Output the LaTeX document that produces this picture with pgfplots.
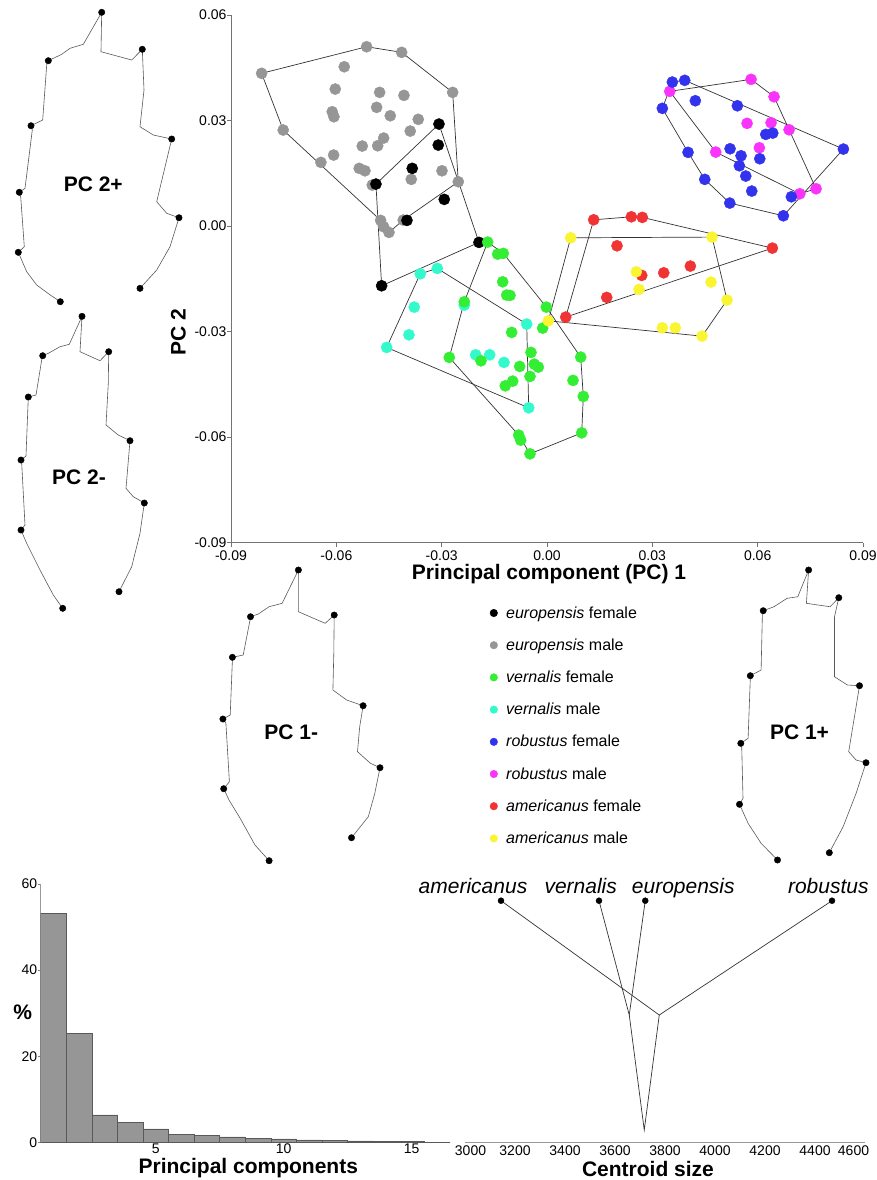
\documentclass[border=0pt]{standalone}
\usepackage{fontspec}
\setmainfont{Liberation Sans}
\usepackage{pgfplots}
\pgfplotsset{compat=1.18}
\newcommand{\ticksize}{\fontsize{14}{16}\selectfont}
\newcommand{\labsize}{\fontsize{21}{24}\selectfont}
\newcommand{\legsize}{\fontsize{16}{18}\selectfont}
\definecolor{cgrey}{RGB}{150,150,150}
\definecolor{cgreen}{RGB}{51,238,51}
\definecolor{ccyan}{RGB}{51,250,204}
\definecolor{cblue}{RGB}{51,51,238}
\definecolor{cmag}{RGB}{250,51,250}
\definecolor{cred}{RGB}{240,51,51}
\definecolor{cyel}{RGB}{250,245,51}
\pgfplotsset{
  hull/.style={draw=black!80, line width=0.7pt, mark=none},
  pts/.style={only marks, mark=*, mark size=5.6pt},
  wing/.style={draw=black!65, line width=0.6pt, mark=none},
  lm/.style={only marks, mark=*, mark size=3.2pt, black},
}
\begin{document}
\begin{tikzpicture}
\path[use as bounding box] (0,0) rectangle (877pt,-1180pt);

%================ main PCA scatter
\begin{axis}[
  at={(231pt,-542.7pt)}, anchor=south west,
  scale only axis, width=632pt, height=527.7pt,
  xmin=-0.09, xmax=0.09, ymin=-0.09, ymax=0.06,
  scaled ticks=false,
  axis x line*=bottom, axis y line*=left,
  axis line style={draw=black!55, line width=0.8pt},
  xtick={-0.09,-0.06,-0.03,0,0.03,0.06,0.09},
  xticklabels={-0.09,-0.06,-0.03,0.00,0.03,0.06,0.09},
  ytick={-0.09,-0.06,-0.03,0,0.03,0.06},
  yticklabels={-0.09,-0.06,-0.03,0.00,0.03,0.06},
  tick align=outside, major tick length=4pt,
  tick style={black!55, line width=0.6pt},
  ticklabel style={font=\ticksize},
  yticklabel style={xshift=3pt},
  clip=false,
]
% hulls
\addplot[hull] coordinates {(-0.08128,0.04342)(-0.05137,0.05098)(-0.04140,0.04939)(-0.02687,0.03801)(-0.02527,0.01260)(-0.04094,0.00171)(-0.04501,-0.00179)(-0.04738,0.00162)(-0.07513,0.02730)(-0.08128,0.04342)};
\addplot[hull] coordinates {(-0.03077,0.02900)(-0.01937,-0.00463)(-0.04710,-0.01697)(-0.04872,0.01194)(-0.03077,0.02900)};
\addplot[hull] coordinates {(-0.01689,-0.00455)(-0.01245,-0.00776)(-0.00020,-0.02303)(0.00960,-0.03725)(0.01034,-0.04842)(0.00989,-0.05877)(-0.00484,-0.06474)(-0.00806,-0.05942)(-0.02783,-0.03733)(-0.02356,-0.02152)(-0.01689,-0.00455)};
\addplot[hull] coordinates {(-0.03610,-0.01356)(-0.03125,-0.01203)(-0.00578,-0.02786)(-0.00521,-0.05166)(-0.04567,-0.03449)(-0.03610,-0.01356)};
\addplot[hull] coordinates {(0.03570,0.04094)(0.03923,0.04143)(0.08442,0.02189)(0.06732,0.00293)(0.05205,0.00654)(0.04493,0.01328)(0.04017,0.02096)(0.03285,0.03347)(0.03570,0.04094)};
\addplot[hull] coordinates {(0.03496,0.03830)(0.05812,0.04171)(0.06467,0.03676)(0.07664,0.01061)(0.07200,0.00918)(0.04806,0.02104)(0.03496,0.03830)};
\addplot[hull] coordinates {(0.01330,0.00179)(0.02402,0.00264)(0.02715,0.00247)(0.06419,-0.00626)(0.00533,-0.02587)(0.01330,0.00179)};
\addplot[hull] coordinates {(0.00675,-0.00333)(0.04701,-0.00313)(0.05128,-0.02104)(0.04416,-0.03128)(0.00037,-0.02693)(0.00675,-0.00333)};
% europensis male
\addplot[pts, cgrey] coordinates {(-0.08128,0.04342)(-0.05137,0.05098)(-0.04140,0.04939)(-0.02687,0.03801)(-0.05775,0.04529)(-0.06031,0.03895)(-0.04766,0.03801)(-0.04074,0.03716)(-0.06117,0.03250)(-0.06068,0.03108)(-0.04852,0.03375)(-0.04464,0.03136)(-0.03667,0.03034)(-0.07513,0.02730)(-0.03895,0.02701)(-0.04652,0.02502)(-0.04823,0.02283)(-0.05262,0.02275)(-0.06077,0.02019)(-0.06439,0.01811)(-0.05348,0.01641)(-0.05185,0.01572)(-0.02991,0.01572)(-0.03866,0.01328)(-0.04977,0.01166)(-0.02527,0.01260)(-0.04738,0.00162)(-0.04652,-0.00020)(-0.04501,-0.00179)(-0.04094,0.00171)};
% europensis female
\addplot[pts, black] coordinates {(-0.03077,0.02900)(-0.03097,0.02303)(-0.03838,0.01641)(-0.04872,0.01194)(-0.02926,0.00759)(-0.03989,0.00162)(-0.01937,-0.00463)(-0.04710,-0.01697)};
% vernalis male
\addplot[pts, ccyan] coordinates {(-0.03610,-0.01356)(-0.03125,-0.01203)(-0.03781,-0.02303)(-0.03932,-0.03091)(-0.04567,-0.03449)(-0.02356,-0.02246)(-0.00578,-0.02786)(-0.02031,-0.03659)(-0.01632,-0.03659)(-0.01225,-0.03875)(-0.00521,-0.05166)};
% vernalis female
\addplot[pts, cgreen] coordinates {(-0.01689,-0.00455)(-0.01405,-0.00796)(-0.01245,-0.00776)(-0.01262,-0.01584)(-0.01148,-0.01962)(-0.01054,-0.01970)(-0.02356,-0.02152)(-0.00020,-0.02303)(-0.00123,-0.02900)(-0.01006,-0.03022)(-0.02783,-0.03733)(-0.01880,-0.03830)(-0.00456,-0.03591)(-0.00362,-0.03924)(-0.00248,-0.04009)(-0.00778,-0.03989)(-0.00484,-0.04273)(-0.00977,-0.04407)(-0.01188,-0.04541)(0.00960,-0.03725)(0.00741,-0.04387)(0.01034,-0.04842)(0.00989,-0.05877)(-0.00806,-0.05942)(-0.00749,-0.06085)(-0.00484,-0.06474)};
% robustus male
\addplot[pts, cmag] coordinates {(0.05812,0.04171)(0.03496,0.03830)(0.06467,0.03676)(0.05698,0.02920)(0.06382,0.02937)(0.06895,0.02738)(0.06048,0.02226)(0.04806,0.02104)(0.07200,0.00918)(0.07664,0.01061)};
% robustus female
\addplot[pts, cblue] coordinates {(0.03570,0.04094)(0.03923,0.04143)(0.04225,0.03563)(0.03285,0.03347)(0.05422,0.03420)(0.06231,0.02607)(0.06430,0.02644)(0.04017,0.02096)(0.05214,0.02198)(0.05527,0.01999)(0.06060,0.01914)(0.05479,0.01714)(0.05661,0.01422)(0.04493,0.01328)(0.05832,0.00995)(0.06960,0.00833)(0.05205,0.00654)(0.06732,0.00293)(0.08442,0.02189)};
% americanus female
\addplot[pts, cred] coordinates {(0.01330,0.00179)(0.02402,0.00264)(0.02715,0.00247)(0.06419,-0.00626)(0.01994,-0.00560)(0.04083,-0.01137)(0.03325,-0.01328)(0.02698,-0.01402)(0.01701,-0.02027)(0.00533,-0.02587)};
% americanus male
\addplot[pts, cyel] coordinates {(0.00675,-0.00333)(0.04701,-0.00313)(0.02544,-0.01299)(0.02621,-0.01800)(0.04672,-0.01592)(0.05128,-0.02104)(0.03285,-0.02892)(0.03655,-0.02892)(0.00037,-0.02693)(0.04416,-0.03128)};
\end{axis}

%================ scree histogram
\begin{axis}[
  at={(40.7pt,-1142.3pt)}, anchor=south west,
  scale only axis, width=409.3pt, height=258.3pt,
  xmin=0.5, xmax=16.5, ymin=0, ymax=60,
  axis x line*=bottom, axis y line*=left,
  axis line style={draw=black!40, line width=0.8pt},
  xtick={5,10,15}, ytick={0,20,40,60},
  tick align=outside, major tick length=3pt,
  xtick style={draw=none}, ytick style={black!50, line width=0.6pt},
  /pgf/number format/assume math mode=true,
  ticklabel style={font=\ticksize},
  yticklabel style={xshift=3pt},
  xticklabel style={yshift=5pt},
]
\addplot[ybar, bar width=1, fill=cgrey, draw=black!65, line width=0.6pt] coordinates {(1,53.2)(2,25.3)(3,6.35)(4,4.57)(5,3.1)(6,1.86)(7,1.55)(8,1.24)(9,1.0)(10,0.77)(11,0.54)(12,0.46)(13,0.31)(14,0.23)(15,0.15)(16,0.05)};
\end{axis}

%================ centroid size tree
\begin{axis}[
  at={(465pt,-1142.3pt)}, anchor=south west,
  scale only axis, width=400pt, height=262.3pt,
  xmin=3000, xmax=4600, ymin=0, ymax=262.3,
  scaled ticks=false,
  axis x line*=bottom, axis y line=none,
  axis line style={draw=black!40, line width=0.8pt},
  xtick={3000,3200,3400,3600,3800,4000,4200,4400,4600},
  xticklabels={{\kern11pt 3000},3200,3400,3600,3800,4000,4200,4400,{4600\kern23pt}},
  xtick style={draw=none},
  ticklabel style={font=\ticksize},
  clip=false,
]
\addplot[black!80, line width=0.7pt, mark=none] coordinates {(3144,241.6)(3777,127.3)(4468,241.6)};
\addplot[black!80, line width=0.7pt, mark=none] coordinates {(3536,241.6)(3657,127.3)(3721,241.6)};
\addplot[black!80, line width=0.7pt, mark=none] coordinates {(3657,127.3)(3717,12.3)(3777,127.3)};
\addplot[only marks, mark=*, mark size=3pt, black] coordinates {(3144,241.6)(3536,241.6)(3721,241.6)(4468,241.6)};
\end{axis}

%================ overlay: outlines, legend, labels
\begin{axis}[
  at={(0pt,0pt)}, anchor=north west,
  scale only axis, width=877pt, height=1180pt,
  xmin=0, xmax=877, ymin=0, ymax=1180, y dir=reverse,
  hide axis, clip=false,
]
% PC 2+
\addplot[wing] coordinates {(60.3,301.7)(50.3,295)(36.7,285)(26.7,271.7)(18.3,252.3)(24.3,246.7)(20.7,196.7)(19.3,192.3)(25,188.3)(32.3,130)(31,125.7)(42.7,120)(46.7,65)(48.3,60.7)(53.3,58.3)(61.7,54.3)(70,48.3)(83.3,44.3)(101.7,12.3)(101,51.7)(131.7,60)(142.3,49.3)(144,90)(140,126.7)(153.3,135)(171.7,139)(156.7,201.7)(166.7,213.3)(179,217.7)(170,246.7)(156.7,270)(140,288.3)};
\addplot[lm] coordinates {(101.7,12.3)(142.3,49.3)(48.3,60.7)(31,125.7)(171.7,139)(19.3,192.3)(179,217.7)(18.3,252.3)(140,288.3)(60.3,301.7)};
% PC 2-
\addplot[wing] coordinates {(62.7,608.3)(53.3,595)(40,570)(26.7,543.3)(21,530)(25,525)(21.7,463.3)(21,460)(26,456)(28.3,397)(36,395)(41.7,360)(42.7,355.7)(48.3,353.3)(60,346.7)(69.3,344.3)(82,316.3)(80,351.7)(100,360.7)(108.7,351.7)(108.3,383.3)(106,425)(118.3,435)(130,440.7)(126,488.3)(133.3,496.7)(144.3,503)(140,533.3)(131.7,566.7)(119,591.7)};
\addplot[lm] coordinates {(82,316.3)(108.7,351.7)(42.7,355.7)(28.3,397)(130,440.7)(21,460)(144.3,503)(21,530)(119,591.7)(62.7,608.3)};
% PC 1-
\addplot[wing] coordinates {(269.1,860.7)(255,845)(240,818)(229,800)(223.7,788.7)(229.4,781.7)(225.9,723.3)(222.9,719)(230.2,715)(232.4,660)(232.4,657.3)(243.2,655)(249.7,621.7)(250.5,616.7)(258.3,614)(269.1,606.7)(282.1,603.3)(298.4,570)(298.4,611.7)(325.2,623.3)(334.2,615)(333.8,653.3)(332.9,690)(346.7,700)(363.1,705.7)(359.7,726.7)(357.5,751.7)(370.5,763.3)(380,767.7)(374.8,793.3)(368.3,816.7)(351.5,837.7)};
\addplot[lm] coordinates {(298.4,570)(334.2,615)(250.5,616.7)(232.4,657.3)(363.1,705.7)(222.9,719)(380,767.7)(223.7,788.7)(351.5,837.7)(269.1,860.7)};
% PC 1+
\addplot[wing] coordinates {(777.5,860)(761.1,843.3)(748.1,823.3)(739.5,804.3)(743,798.3)(741.7,746.7)(740.8,743.3)(748.1,738.3)(750.3,678.3)(750.3,675.7)(761.1,670)(762.4,613.3)(763.2,610.7)(774,606.7)(787,598.3)(797.8,596.7)(808.6,570)(806.4,603.3)(830.1,606.7)(838.8,597.7)(834.5,616.7)(834.5,676.7)(847.4,685)(859.5,685.7)(853.9,720)(848.7,751.7)(856.1,760)(866,762.7)(856.1,793.3)(843.1,826.7)(829.3,852.7)};
\addplot[lm] coordinates {(808.6,570)(838.8,597.7)(763.2,610.7)(750.3,675.7)(859.5,685.7)(740.8,743.3)(866,762.7)(739.5,804.3)(829.3,852.7)(777.5,860)};
% legend markers
\addplot[only marks, mark=*, mark size=3.8pt, black] coordinates {(493.8,613)};
\addplot[only marks, mark=*, mark size=3.8pt, cgrey] coordinates {(493.8,645.2)};
\addplot[only marks, mark=*, mark size=3.8pt, cgreen] coordinates {(493.8,677.4)};
\addplot[only marks, mark=*, mark size=3.8pt, ccyan] coordinates {(493.8,709.6)};
\addplot[only marks, mark=*, mark size=3.8pt, cblue] coordinates {(493.8,741.8)};
\addplot[only marks, mark=*, mark size=3.8pt, cmag] coordinates {(493.8,774)};
\addplot[only marks, mark=*, mark size=3.8pt, cred] coordinates {(493.8,806.2)};
\addplot[only marks, mark=*, mark size=3.8pt, cyel] coordinates {(493.8,838.4)};
% legend texts
\node[anchor=base west, inner sep=0pt, font=\legsize] at (axis cs:506,618) {\textit{europensis} female};
\node[anchor=base west, inner sep=0pt, font=\legsize] at (axis cs:506,650.2) {\textit{europensis} male};
\node[anchor=base west, inner sep=0pt, font=\legsize] at (axis cs:506,682.4) {\textit{vernalis} female};
\node[anchor=base west, inner sep=0pt, font=\legsize] at (axis cs:506,714.6) {\textit{vernalis} male};
\node[anchor=base west, inner sep=0pt, font=\legsize] at (axis cs:506,746.8) {\textit{robustus} female};
\node[anchor=base west, inner sep=0pt, font=\legsize] at (axis cs:506,779) {\textit{robustus} male};
\node[anchor=base west, inner sep=0pt, font=\legsize] at (axis cs:506,811.2) {\textit{americanus} female};
\node[anchor=base west, inner sep=0pt, font=\legsize] at (axis cs:506,843.4) {\textit{americanus} male};
% axis labels
\node[rotate=90, inner sep=0pt, font=\labsize\bfseries] at (axis cs:178.3,332) {PC 2};
\node[anchor=base, inner sep=0pt, font=\labsize\bfseries] at (axis cs:549,579) {Principal component (PC) 1};
\node[inner sep=0pt, font=\labsize\bfseries] at (axis cs:22.7,1012.5) {\%};
\node[anchor=base, inner sep=0pt, font=\labsize\bfseries] at (axis cs:248.3,1173) {Principal components};
\node[anchor=base, inner sep=0pt, font=\labsize\bfseries] at (axis cs:648,1176.5) {Centroid size};
% outline labels
\node[inner sep=0pt, font=\labsize\bfseries] at (axis cs:93.3,184) {PC 2+};
\node[inner sep=0pt, font=\labsize\bfseries] at (axis cs:79,477.5) {PC 2-};
\node[inner sep=0pt, font=\labsize\bfseries] at (axis cs:291.3,732.5) {PC 1-};
\node[inner sep=0pt, font=\labsize\bfseries] at (axis cs:799.5,732.5) {PC 1+};
% species names in tree
\node[anchor=base, inner sep=0pt, font=\labsize\itshape] at (axis cs:473,893) {americanus};
\node[anchor=base, inner sep=0pt, font=\labsize\itshape] at (axis cs:580.7,893) {vernalis};
\node[anchor=base, inner sep=0pt, font=\labsize\itshape] at (axis cs:683.3,893) {europensis};
\node[anchor=base, inner sep=0pt, font=\labsize\itshape] at (axis cs:828.3,893) {robustus};
\end{axis}
\end{tikzpicture}
\end{document}
